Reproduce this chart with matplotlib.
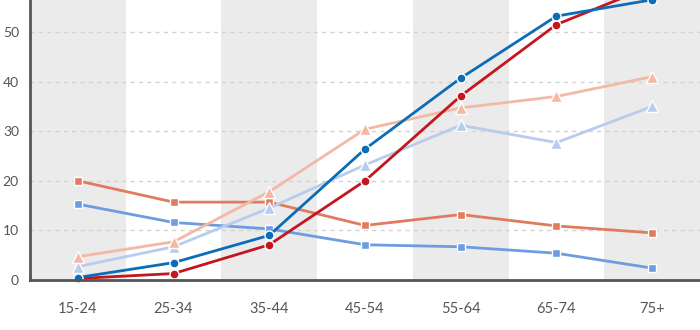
import matplotlib.pyplot as plt

age_groups = ["15-24", "25-34", "35-44", "45-54", "55-64", "65-74", "75+"]
y_ticks = [0, 10, 20, 30, 40, 50]

# series (percent)
dark_blue = [0.5, 3.5, 9.0, 26.4, 40.7, 53.2, 56.5]
dark_red = [0.3, 1.3, 7.1, 20.0, 37.1, 51.5, 59.3]
salmon_tri = [4.7, 7.7, 17.8, 30.4, 34.7, 37.0, 41.0]
lightblue_tri = [2.7, 6.7, 14.5, 23.2, 31.2, 27.7, 35.0]
salmon_sq = [20.0, 15.7, 15.7, 11.0, 13.2, 10.9, 9.5]
blue_sq = [15.3, 11.6, 10.3, 7.1, 6.7, 5.4, 2.4]

series = [
    (blue_sq, "#6d9de0", "s", 6),
    (salmon_sq, "#e07b5e", "s", 6),
    (lightblue_tri, "#b8cced", "^", 9),
    (salmon_tri, "#f3b9a3", "^", 9),
    (dark_red, "#c3161e", "o", 6.5),
    (dark_blue, "#0b6db8", "o", 6.5),
]

plt.rcParams['font.family'] = ['Lato', 'DejaVu Sans']

fig = plt.figure(figsize=(7, 3.3), dpi=100)
ymax = 60
# axes top runs past the figure edge, like the cropped original
ax = fig.add_axes([30 / 700, 50 / 330, 670 / 700, ymax * 4.96 / 330])

x = list(range(len(age_groups)))
for i in x:
    if i % 2 == 0:
        ax.axvspan(i - 0.5, i + 0.5, color="#ebebeb", lw=0, zorder=0)

for vals, col, mk, ms in series:
    ax.plot(x, vals, color=col, lw=2, marker=mk, markersize=ms,
            markeredgecolor="white", markeredgewidth=1, zorder=3, clip_on=False)

ax.set_xlim(-0.5, 6.5)
ax.set_ylim(0, ymax)
ax.set_yticks(y_ticks)
ax.set_xticks(x)
ax.set_xticklabels(age_groups)
ax.tick_params(axis="y", length=0, pad=8, labelsize=10, labelcolor="#555555")
ax.tick_params(axis="x", length=0, pad=16, labelsize=10.5, labelcolor="#555555")

for y in y_ticks[1:]:
    ax.axhline(y, color="#d3d3d3", lw=1, ls=(0, (3, 3)), zorder=1)

for s in ["top", "right"]:
    ax.spines[s].set_visible(False)
for s in ["left", "bottom"]:
    ax.spines[s].set_color("#555555")
    ax.spines[s].set_linewidth(2)
    ax.spines[s].set_zorder(4)

# the axis title sits mostly below the bottom edge, as in the original
ax.set_xlabel("Vastaajan ikäryhmä", fontsize=11, color="#555555", labelpad=14)

fig.savefig("out.png", dpi=100)
